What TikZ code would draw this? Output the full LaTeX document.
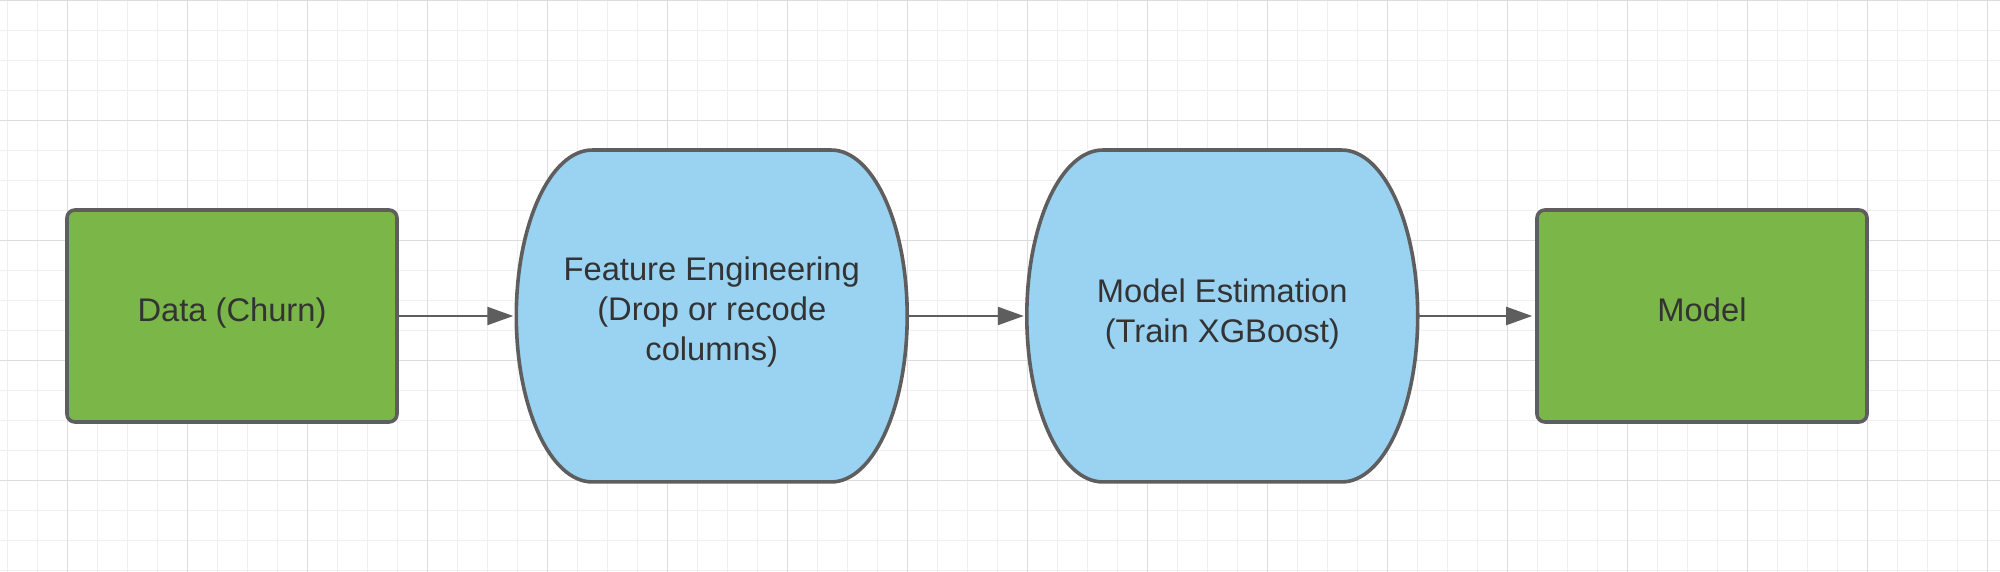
\documentclass[tikz,border=0pt]{standalone}
\usepackage{fontspec}
\setmainfont{Liberation Sans}
\usetikzlibrary{arrows.meta,calc}
\definecolor{gridminor}{HTML}{EFEFEF}
\definecolor{gridmajor}{HTML}{DDDDDD}
\definecolor{edgegray}{HTML}{5E5E5E}
\definecolor{boxgreen}{HTML}{7AB648}
\definecolor{boxblue}{HTML}{9AD2F2}
\definecolor{txtgray}{HTML}{333333}
\tikzset{
  gminor/.style={draw=gridminor, line width=1pt},
  gmajor/.style={draw=gridmajor, line width=1.3pt},
  lbl/.style={text=txtgray, align=center, font=\fontsize{32.7}{40}\selectfont},
  greenbox/.style={lbl, rectangle, rounded corners=8pt, draw=edgegray, line width=3.6pt,
    fill=boxgreen, minimum width=330pt, minimum height=212pt, inner sep=0pt,
    text height=24pt, text depth=13pt},
  blueholder/.style={lbl, rectangle, minimum width=390.5pt, minimum height=331.5pt, inner sep=0pt},
  blueshape/.style={draw=edgegray, line width=3.6pt, fill=boxblue, line join=round},
  flow/.style={draw=edgegray, line width=2.2pt, -{Triangle[length=26pt,width=18pt]}, shorten >=3pt}
}
\begin{document}
\begin{tikzpicture}[x=1pt,y=1pt]
\useasboundingbox (0,0) rectangle (2000,572);
\fill[white] (0,0) rectangle (2000,572);
% grid
\foreach \i in {0,...,66} \draw[gminor] ({7.3+30*\i},0) -- ({7.3+30*\i},572);
\foreach \j in {0,...,19} \draw[gminor] (0,{571.3-30*\j}) -- (2000,{571.3-30*\j});
\foreach \i in {0,...,16} \draw[gmajor] ({67.3+120*\i},0) -- ({67.3+120*\i},572);
\foreach \j in {0,...,4} \draw[gmajor] (0,{571.3-120*\j}) -- (2000,{571.3-120*\j});
% nodes
\node[greenbox] (data) at (232,256) {Data (Churn)};
\node[greenbox] (model) at (1702,256) {Model};
\node[blueholder] (fe) at (711.75,256) {};
\node[blueholder] (me) at (1222.25,256) {};
\foreach \n in {fe,me}{
  \coordinate (\n-a) at ($(\n.north west)+(76,0)$);
  \coordinate (\n-b) at ($(\n.north east)+(-76,0)$);
  \coordinate (\n-d) at ($(\n.south east)+(-76,0)$);
  \coordinate (\n-e) at ($(\n.south west)+(76,0)$);
  \draw[blueshape] (\n-a) -- (\n-b)
    .. controls ($(\n-b)+(42,0)$) and ($(\n.east)+(0,91.5)$) .. (\n.east)
    .. controls ($(\n.east)+(0,-91.5)$) and ($(\n-d)+(42,0)$) .. (\n-d)
    -- (\n-e)
    .. controls ($(\n-e)+(-42,0)$) and ($(\n.west)+(0,-91.5)$) .. (\n.west)
    .. controls ($(\n.west)+(0,91.5)$) and ($(\n-a)+(-42,0)$) .. (\n-a) -- cycle;
}
\node[lbl] at ($(fe.center)+(0,4)$) {Feature Engineering\\(Drop or recode\\columns)};
\node[lbl] at ($(me.center)+(0,2)$) {Model Estimation\\(Train XGBoost)};
% connectors
\draw[flow] (data.east) -- (fe.west);
\draw[flow] (fe.east) -- (me.west);
\draw[flow] (me.east) -- (model.west);
\end{tikzpicture}
\end{document}
